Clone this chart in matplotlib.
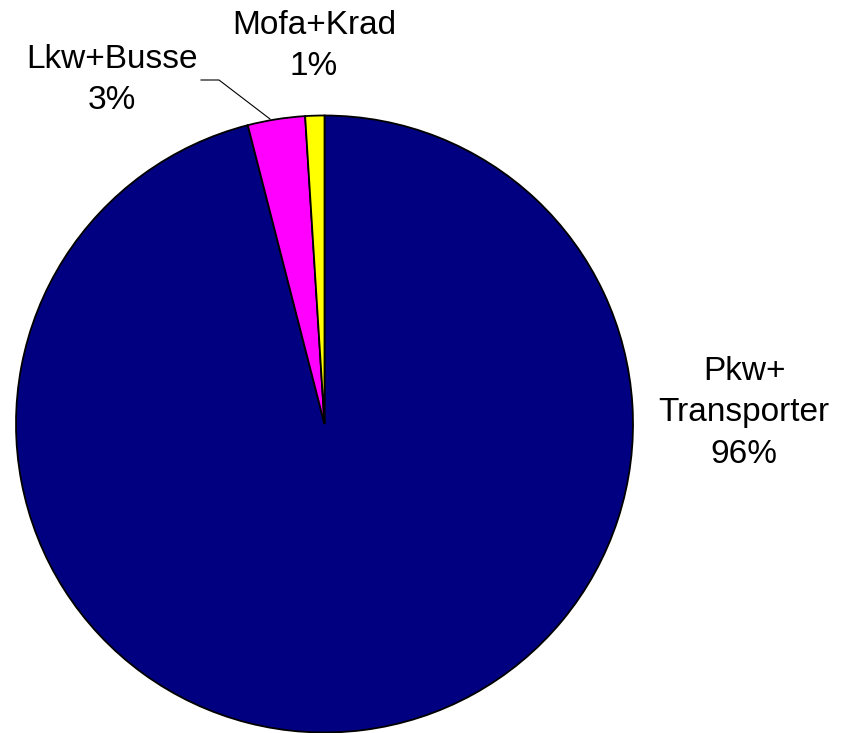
import matplotlib
matplotlib.use('Agg')
import matplotlib.pyplot as plt

# Anteile der Fahrzeugarten
labels = ['Pkw+\nTransporter', 'Lkw+Busse', 'Mofa+Krad']
anteile = [96, 3, 1]
farben = ['#000080', '#FF00FF', '#FFFF00']

plt.rcParams['font.family'] = ['Liberation Sans', 'DejaVu Sans']

W, H = 847, 733
fig = plt.figure(figsize=(W / 100, H / 100), dpi=100)
ax = fig.add_axes([0, 0, 1, 1])

def py(y):
    # Pixel von oben -> Datenkoordinate
    return H - y

ax.pie(anteile, colors=farben, startangle=90, counterclock=False,
       center=(324.5, py(424)), radius=308.5, frame=True,
       wedgeprops=dict(edgecolor='black', linewidth=1.3))
ax.set_xlim(0, W)
ax.set_ylim(0, H)
ax.set_aspect('equal')
ax.axis('off')

# Beschriftungen
pos = [(744, 413), (112, 80), (314, 46)]
for lab, a, (x, y) in zip(labels, anteile, pos):
    ax.text(x, py(y), '%s\n%d%%' % (lab, a), ha='center', va='center',
            multialignment='center', fontsize=24, linespacing=1.42)

# Fuehrungslinie Lkw+Busse
ax.plot([201, 219, 270], [py(80), py(80), py(119)], color='black', lw=0.8)

fig.savefig('out.png', dpi=100, facecolor='white')
